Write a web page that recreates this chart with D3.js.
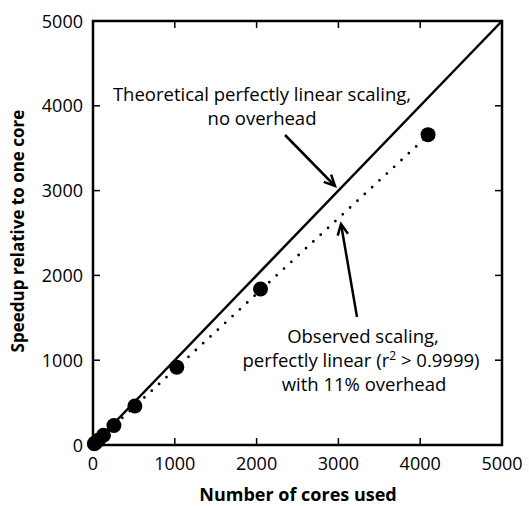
<!DOCTYPE html>
<html>
<head>
<meta charset="utf-8">
<script src="https://cdn.jsdelivr.net/npm/d3@7"></script>
<style>
  body { margin: 0; background: #fff; }
  text { font-family: "Open Sans", "DejaVu Sans", sans-serif; fill: #000; }
</style>
</head>
<body>
<svg id="chart" width="529" height="506"></svg>
<script>
// data
const cores = [16, 32, 64, 128, 256, 512, 1024, 2048, 4096];
const speedup = [14, 28, 57, 115, 230, 460, 918, 1840, 3660];
const idealX = [0, 5000];
const idealY = [0, 5000];
const fitX = [0, 4096];
const fitY = [0, 3650];
const tickValues = [0, 1000, 2000, 3000, 4000, 5000];

const svg = d3.select('#chart');
const plotLeft = 93, plotRight = 502, plotTop = 21, plotBottom = 445;

const x = d3.scaleLinear().domain([0, 5000]).range([plotLeft, plotRight]);
const y = d3.scaleLinear().domain([0, 5000]).range([plotBottom, plotTop]);

// inward ticks on all four sides
const tickLen = 7;
const ticks = svg.append('g').attr('stroke', '#000').attr('stroke-width', 1.5);
tickValues.slice(1, -1).forEach(v => {
  ticks.append('line').attr('x1', x(v)).attr('x2', x(v)).attr('y1', plotBottom).attr('y2', plotBottom - tickLen);
  ticks.append('line').attr('x1', x(v)).attr('x2', x(v)).attr('y1', plotTop).attr('y2', plotTop + tickLen);
  ticks.append('line').attr('x1', plotLeft).attr('x2', plotLeft + tickLen).attr('y1', y(v)).attr('y2', y(v));
  ticks.append('line').attr('x1', plotRight).attr('x2', plotRight - tickLen).attr('y1', y(v)).attr('y2', y(v));
});

// tick labels
svg.append('g').selectAll('text')
  .data(tickValues)
  .enter()
  .append('text')
  .attr('x', d => x(d))
  .attr('y', 470)
  .attr('text-anchor', 'middle')
  .style('font-size', '18px')
  .text(d => d);

svg.append('g').selectAll('text')
  .data(tickValues)
  .enter()
  .append('text')
  .attr('x', 83)
  .attr('y', d => y(d) + 6.5)
  .attr('text-anchor', 'end')
  .style('font-size', '18px')
  .text(d => d);

// lines
const line = d3.line().x(d => x(d[0])).y(d => y(d[1]));

svg.append('path')
  .datum(idealX.map((v, i) => [v, idealY[i]]))
  .attr('d', line)
  .attr('fill', 'none')
  .attr('stroke', '#000')
  .attr('stroke-width', 2.5);

svg.append('path')
  .datum(fitX.map((v, i) => [v, fitY[i]]))
  .attr('d', line)
  .attr('fill', 'none')
  .attr('stroke', '#000')
  .attr('stroke-width', 2.8)
  .attr('stroke-linecap', 'round')
  .attr('stroke-dasharray', '0,10');

// points
svg.append('g').selectAll('circle')
  .data(cores)
  .enter()
  .append('circle')
  .attr('cx', d => x(d))
  .attr('cy', (d, i) => y(speedup[i]))
  .attr('r', 7.5)
  .attr('fill', '#000');

// frame
svg.append('rect')
  .attr('x', plotLeft).attr('y', plotTop)
  .attr('width', plotRight - plotLeft).attr('height', plotBottom - plotTop)
  .attr('fill', 'none')
  .attr('stroke', '#000')
  .attr('stroke-width', 2.5);

// annotations
const arrow = (x1, y1, x2, y2) => {
  const a = Math.atan2(y2 - y1, x2 - x1);
  const h = 12, w = 0.45;
  svg.append('line')
    .attr('x1', x1).attr('y1', y1).attr('x2', x2).attr('y2', y2)
    .attr('stroke', '#000').attr('stroke-width', 2.5);
  svg.append('polyline')
    .attr('points', [
      [x2 - h * Math.cos(a - w), y2 - h * Math.sin(a - w)],
      [x2, y2],
      [x2 - h * Math.cos(a + w), y2 - h * Math.sin(a + w)]
    ].map(p => p.join(',')).join(' '))
    .attr('fill', 'none')
    .attr('stroke', '#000')
    .attr('stroke-width', 2.5);
};

const note = (tx, ty, s) => svg.append('text')
  .attr('x', tx).attr('y', ty)
  .attr('text-anchor', 'middle')
  .style('font-size', '18.5px')
  .text(s);

note(262, 101, 'Theoretical perfectly linear scaling,');
note(262, 125, 'no overhead');
arrow(285, 135, 335, 186);

note(363, 343, 'Observed scaling,');
const t2 = note(361, 367, 'perfectly linear (r');
t2.append('tspan').attr('dy', -7).style('font-size', '12px').text('2');
t2.append('tspan').attr('dy', 7).text(' > 0.9999)');
note(364, 391, 'with 11% overhead');
arrow(357, 317, 341, 224);

// axis titles
svg.append('text')
  .attr('x', 298).attr('y', 501)
  .attr('text-anchor', 'middle')
  .style('font-size', '18px')
  .style('font-weight', 'bold')
  .text('Number of cores used');

svg.append('text')
  .attr('transform', 'translate(24,231) rotate(-90)')
  .attr('text-anchor', 'middle')
  .style('font-size', '17px')
  .style('font-weight', 'bold')
  .text('Speedup relative to one core');
</script>
</body>
</html>
